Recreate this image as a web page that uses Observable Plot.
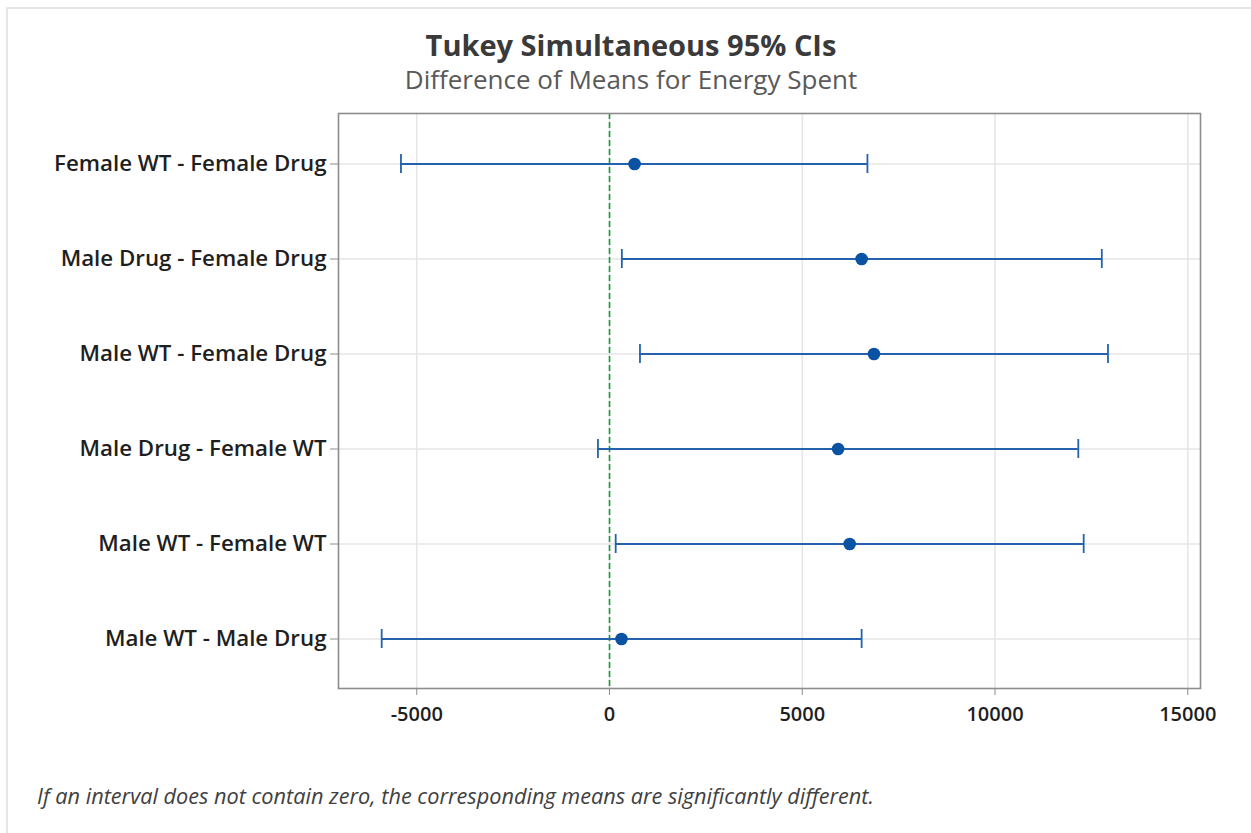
<!DOCTYPE html>
<html>
<head>
<meta charset="utf-8">
<script src="https://cdn.jsdelivr.net/npm/d3@7"></script>
<script src="https://cdn.jsdelivr.net/npm/@observablehq/plot@0.6"></script>
<style>
  body { margin: 0; background: #fff; }
  #page { position: relative; width: 1251px; height: 833px; overflow: hidden; font-family: "Open Sans", sans-serif; }
  #edge { position: absolute; left: 6px; top: 7px; right: 0; bottom: 0; border-top: 2px solid #e6e6e6; border-left: 2px solid #e6e6e6; }
  #title { position: absolute; left: 0; width: 1262px; top: 30px; line-height: 29px; text-align: center; font-size: 29px; font-weight: 700; color: #3a3a3a; }
  #subtitle { position: absolute; left: 0; width: 1262px; top: 66px; line-height: 26px; text-align: center; font-size: 26px; font-weight: 400; color: #595959; }
  #caption { position: absolute; left: 37px; top: 785px; line-height: 21.7px; font-size: 21.7px; font-style: italic; color: #404040; }
  #chart { position: absolute; left: 0; top: 0; }
  #chart [aria-label^="x-axis"] text { fill: #1f1f1f; font-size: 20px; font-weight: 600; }
  #chart [aria-label^="y-axis"] text { fill: #1f1f1f; font-size: 22.3px; font-weight: 600; }
</style>
</head>
<body>
<div id="page">
  <div id="edge"></div>
  <div id="title">Tukey Simultaneous 95% CIs</div>
  <div id="subtitle">Difference of Means for Energy Spent</div>
  <div id="chart"></div>
  <div id="caption">If an interval does not contain zero, the corresponding means are significantly different.</div>
</div>
<script>
// Pairwise comparisons (top to bottom)
const comparisons = [
  "Female WT - Female Drug",
  "Male Drug - Female Drug",
  "Male WT - Female Drug",
  "Male Drug - Female WT",
  "Male WT - Female WT",
  "Male WT - Male Drug"
];
// Tukey 95% simultaneous intervals for the difference of means
const diffMeans   = [650, 6540, 6860, 5930, 6230, 310];
const lowerBounds = [-5410, 320, 790, -300, 160, -5910];
const upperBounds = [6690, 12770, 12930, 12160, 12300, 6540];
// x-axis tick values
const xTicks = [-5000, 0, 5000, 10000, 15000];

const rows = comparisons.map((label, i) => ({
  label,
  mean: diffMeans[i],
  lower: lowerBounds[i],
  upper: upperBounds[i]
}));

const lineBlue = "#2462ad";
const dotBlue = "#0a52a3";

const chart = Plot.plot({
  width: 1251,
  height: 760,
  marginLeft: 338,
  marginRight: 51,
  marginTop: 113,
  marginBottom: 72,
  style: { fontFamily: "Open Sans, sans-serif", fontSize: "18px", color: "#8c8c8c", background: "transparent" },
  x: {
    domain: [-7030, 15330],
    ticks: xTicks,
    tickFormat: d => String(d),
    tickSize: 7,
    tickPadding: 11,
    label: null
  },
  y: {
    type: "band",
    domain: comparisons,
    padding: 0,
    tickSize: 8,
    tickPadding: 4,
    label: null
  },
  marks: [
    // light gridlines
    Plot.ruleX(xTicks, { stroke: "#e6e6e6", strokeWidth: 1.6 }),
    Plot.ruleY(comparisons, { y: d => d, stroke: "#e6e6e6", strokeWidth: 1.6 }),
    // zero reference
    Plot.ruleX([0], { stroke: "#15a03a", strokeWidth: 1.6, strokeDasharray: "6,3" }),
    // intervals with end caps
    Plot.ruleY(rows, { y: "label", x1: "lower", x2: "upper", stroke: lineBlue, strokeWidth: 1.8 }),
    Plot.tickX(rows, { x: "lower", y: "label", stroke: lineBlue, strokeWidth: 1.8, insetTop: 38, insetBottom: 38 }),
    Plot.tickX(rows, { x: "upper", y: "label", stroke: lineBlue, strokeWidth: 1.8, insetTop: 38, insetBottom: 38 }),
    // estimated differences
    Plot.dot(rows, { x: "mean", y: "label", r: 6.3, fill: dotBlue, stroke: "none" }),
    Plot.frame({ stroke: "#8c8c8c", strokeWidth: 1.6 })
  ]
});

document.getElementById("chart").appendChild(chart);
</script>
</body>
</html>
